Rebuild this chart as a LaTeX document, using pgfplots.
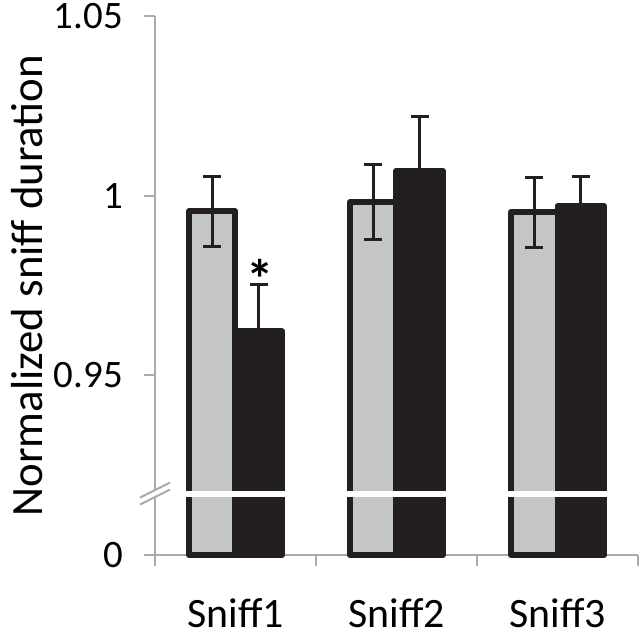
\documentclass[border=0pt]{standalone}
\usepackage{fontspec}
\setmainfont{Carlito}
\usepackage{pgfplots}
\usepackage{pgfplotstable}
\pgfplotsset{compat=1.18}
\definecolor{axisgray}{HTML}{ABABAB}
\definecolor{barfill}{HTML}{C4C5C7}
\definecolor{barblack}{HTML}{231F20}
\pgfplotstableread{
x y e
0 0.9956 0.0098
1 0.9982 0.0105
2 0.9954 0.0097
}\grayset
\pgfplotstableread{
x y e
0 0.9622 0.0131
1 1.0069 0.0151
2 0.9972 0.0081
}\blackset
\begin{document}
\begin{tikzpicture}
\useasboundingbox (-155bp,-82bp) rectangle (485bp,555bp);
\begin{axis}[
  at={(0,0)}, anchor=south west,
  scale only axis, width=483bp, height=539bp,
  xmin=-0.5, xmax=2.5, ymin=0.9, ymax=1.05,
  clip=false,
  ybar=0pt, bar width=46.5bp,
  axis lines*=left,
  axis line style={-, draw=axisgray, line width=2bp},
  tick align=outside,
  major tick length=11bp,
  tick style={draw=axisgray, line width=2bp},
  xtick={-0.5,0.5,1.5,2.5},
  xticklabels={},
  extra x ticks={0,1,2},
  extra x tick labels={Sniff1,Sniff2,Sniff3},
  extra x tick style={major tick length=0pt},
  xticklabel style={font=\fontsize{42}{50}\selectfont, anchor=north, inner sep=0pt, yshift=-43bp},
  ytick={0.9,0.95,1,1.05},
  yticklabels={0,0.95,1,1.05},
  yticklabel style={font=\fontsize{39}{46}\selectfont, anchor=east, inner sep=0pt, xshift=-21bp},
  /pgf/number format/assume math mode=true,
  ylabel={Normalized sniff duration},
  every axis y label/.style={at={(axis description cs:-0.265,0.5)}, rotate=90, anchor=center, font=\fontsize{45}{54}\selectfont},
]
\addplot[fill=barfill, draw=barblack, line width=6bp, line join=round,
  error bars/.cd, y dir=both, y explicit,
  error bar style={line width=3bp, draw=barblack},
  error mark options={rotate=90, mark size=9bp, line width=3bp, draw=barblack}]
  table[x=x, y=y, y error=e] {\grayset};
\addplot[fill=barblack, draw=barblack, line width=6bp, line join=round,
  error bars/.cd, y dir=both, y explicit,
  error bar style={line width=3bp, draw=barblack},
  error mark options={rotate=90, mark size=9bp, line width=3bp, draw=barblack}]
  table[x=x, y=y, y error=e] {\blackset};
\draw[white, line width=6bp] (axis cs:-0.45,0.9171) -- (axis cs:2.45,0.9171);
\draw[white, line width=4bp] ([yshift=-2.5bp]axis cs:-0.5,0.9171) -- ([yshift=2.5bp]axis cs:-0.5,0.9171);
\draw[axisgray, line width=2bp] ([shift={(-15bp,-4bp)}]axis cs:-0.5,0.9171) -- ++(30bp,15bp);
\draw[axisgray, line width=2bp] ([shift={(-15bp,-11bp)}]axis cs:-0.5,0.9171) -- ++(30bp,15bp);
\node[font=\fontsize{55}{60}\selectfont\bfseries, anchor=base] at ([xshift=25bp]axis cs:0,0.9714) {*};
\end{axis}
\end{tikzpicture}
\end{document}
